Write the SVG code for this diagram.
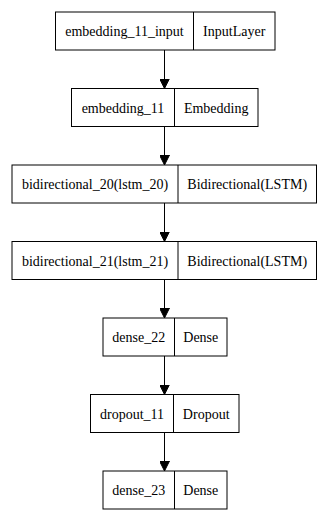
<svg xmlns="http://www.w3.org/2000/svg" width="329" height="518" viewBox="0 0 329 518">
  <style>
    .box { fill: #ffffff; stroke: #000000; stroke-width: 1; }
    .div { stroke: #000000; stroke-width: 1; }
    .lbl { font-family: "Liberation Serif", "Times New Roman", serif; font-size: 14px; fill: #000000; text-anchor: middle; }
    .edge { stroke: #000000; stroke-width: 1; fill: none; }
  </style>
  <defs>
    <marker id="arrow" viewBox="0 0 10 10" refX="10" refY="5" markerWidth="10" markerHeight="10" markerUnits="userSpaceOnUse" orient="auto">
      <path d="M0,0 L10,5 L0,10 Z" fill="#000000" stroke="#000000" stroke-width="1"/>
    </marker>
  </defs>
  <rect width="329" height="518" fill="#ffffff"/>

  <g id="connectors">
    <line class="edge" x1="164.5" y1="50" x2="164.5" y2="88.5" marker-end="url(#arrow)"/>
    <line class="edge" x1="164.5" y1="126.5" x2="164.5" y2="165" marker-end="url(#arrow)"/>
    <line class="edge" x1="164.5" y1="203" x2="164.5" y2="241.5" marker-end="url(#arrow)"/>
    <line class="edge" x1="164.5" y1="279.5" x2="164.5" y2="318" marker-end="url(#arrow)"/>
    <line class="edge" x1="164.5" y1="356" x2="164.5" y2="394.5" marker-end="url(#arrow)"/>
    <line class="edge" x1="164.5" y1="432.5" x2="164.5" y2="471" marker-end="url(#arrow)"/>
  </g>

  <g id="embedding_11_input">
    <rect class="box" x="55.5" y="12" width="219.5" height="38"/>
    <line class="div" x1="193.5" y1="12" x2="193.5" y2="50"/>
    <text class="lbl" x="124.5" y="36">embedding_11_input</text>
    <text class="lbl" x="234.2" y="36">InputLayer</text>
  </g>

  <g id="embedding_11">
    <rect class="box" x="71.5" y="88.5" width="186.5" height="38"/>
    <line class="div" x1="174.5" y1="88.5" x2="174.5" y2="126.5"/>
    <text class="lbl" x="123" y="112.5">embedding_11</text>
    <text class="lbl" x="216.2" y="112.5">Embedding</text>
  </g>

  <g id="bidirectional_20">
    <rect class="box" x="12" y="165" width="304.5" height="38"/>
    <line class="div" x1="178" y1="165" x2="178" y2="203"/>
    <text class="lbl" x="95" y="189">bidirectional_20(lstm_20)</text>
    <text class="lbl" x="247.2" y="189">Bidirectional(LSTM)</text>
  </g>

  <g id="bidirectional_21">
    <rect class="box" x="12" y="241.5" width="304.5" height="38"/>
    <line class="div" x1="178" y1="241.5" x2="178" y2="279.5"/>
    <text class="lbl" x="95" y="265.5">bidirectional_21(lstm_21)</text>
    <text class="lbl" x="247.2" y="265.5">Bidirectional(LSTM)</text>
  </g>

  <g id="dense_22">
    <rect class="box" x="103" y="318" width="124" height="38"/>
    <line class="div" x1="174.5" y1="318" x2="174.5" y2="356"/>
    <text class="lbl" x="138.8" y="342">dense_22</text>
    <text class="lbl" x="200.8" y="342">Dense</text>
  </g>

  <g id="dropout_11">
    <rect class="box" x="90.5" y="394.5" width="148.5" height="38"/>
    <line class="div" x1="173.5" y1="394.5" x2="173.5" y2="432.5"/>
    <text class="lbl" x="132" y="418.5">dropout_11</text>
    <text class="lbl" x="206.2" y="418.5">Dropout</text>
  </g>

  <g id="dense_23">
    <rect class="box" x="103" y="471" width="124" height="38"/>
    <line class="div" x1="174.5" y1="471" x2="174.5" y2="509"/>
    <text class="lbl" x="138.8" y="495">dense_23</text>
    <text class="lbl" x="200.8" y="495">Dense</text>
  </g>
</svg>
